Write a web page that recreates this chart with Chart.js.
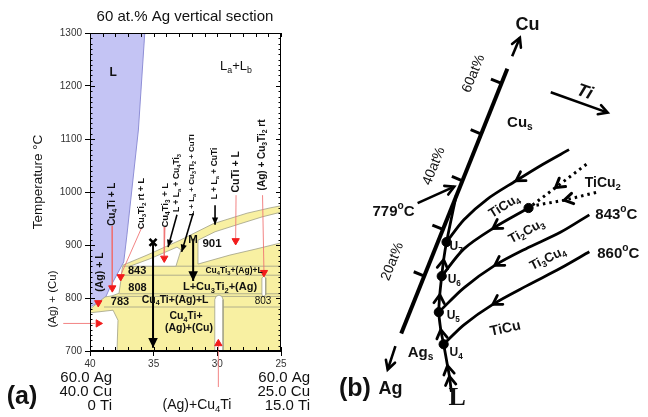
<!DOCTYPE html>
<html>
<head>
<meta charset="utf-8">
<script src="https://cdn.jsdelivr.net/npm/chart.js@4.4.1/dist/chart.umd.min.js"></script>
<style>
  html, body { margin: 0; padding: 0; background: #fff; }
  #wrap { position: relative; width: 648px; height: 417px; overflow: hidden; }
  #boxA { position: absolute; left: 0; top: 0; width: 330px; height: 417px; }
  #boxB { position: absolute; left: 330px; top: 0; width: 318px; height: 417px; }
</style>
</head>
<body>
<div id="wrap">
  <div id="boxA"><canvas id="section"></canvas></div>
  <div id="boxB"><canvas id="projection"></canvas></div>
</div>
<script>
// ---------- panel (a): 60 at.% Ag vertical section (x = at.% Cu, y = T in C) ----------
const tempTicks = [700, 800, 900, 1000, 1100, 1200, 1300];
const cuTicks = [40, 35, 30, 25];
const isoTemps = [860, 843, 808, 803, 783];
const isoFrom = [37.41, 37.5, 37.7, 38.3, 38.9];

const fieldL = [[40,1300],[35.7,1300],[36.2,1117],[36.8,985],[37.1,919],[37.35,868],[38.45,819],[38.8,800],[40,783]];
const fieldYellow = [[37.41,862],[35.52,881],[32.93,909],[30.34,940],[27.67,960],[25.86,970],[25,974],[25,700],
  [37.88,700],[37.8,758],[38.19,777],[40,772],[40,779],[38.82,802],[38.27,804],[37.72,809],[37.57,834],[37.49,853]];
const pocketLeft = [[36.86,860],[35.29,874],[33.17,896],[32.85,891],[33.25,860]];
const pocket901 = [[31.52,864],[31.52,909],[30.18,925],[28.22,940],[26.49,953],[25,962],[25,904],[27.04,892],[29.01,881]];
const slot30 = [[30.2,700],[30.2,797],[30.1,803],[29.87,805.5],[29.64,803],[29.55,797],[29.55,700]];
const slot26 = [[26.5,806],[26.5,838],[26.35,841],[26.2,838],[26.2,806],[26.35,803]];

const redDown = [[39.35,791],[38.25,819],[37.59,840],[34.17,875],[28.56,908],[26.34,848]];
const redRight = [[39.35,752]];
const redUp = [[29.92,714]];
const redLeaders = [
  [[38.27,936],[38.25,823]],
  [[35.92,934],[37.55,845]],
  [[34.11,934],[34.17,880]],
  [[28.53,994],[28.56,912]],
  [[26.45,994],[26.34,852]],
  [[42.1,752],[39.6,752]],
  [[29.92,632],[29.92,719]]
];
const blackArrows = [
  [[35.05,905],[35.05,706]],
  [[31.9,912],[31.9,832]],
  [[33.17,957],[33.87,896]],
  [[31.9,960],[32.8,887]],
  [[30.18,975],[30.18,938]]
];
const startPoint = [[35.05,905]];

const fieldLabels = [
  // text, at.% Cu, T, size, style, rotation
  ['L', 38.19, 1226, 12, 'b', 0],
  ['L_a+L_b', 28.53, 1236, 13, '', 0],
  ['843', 36.3, 851, 11, 'b', 0],
  ['808', 36.27, 818, 11, 'b', 0],
  ['783', 37.64, 793, 11, 'b', 0],
  ['Cu_4Ti+(Ag)+L', 33.32, 796, 10.5, 'b', 0],
  ['L+Cu_3Ti_2+(Ag)', 29.79, 820, 11, 'b', 0],
  ['Cu_4Ti_3+(Ag)+L', 28.69, 851, 8.5, 'b', 0],
  ['Cu_4Ti+', 32.46, 765, 10.5, 'b', 0],
  ['(Ag)+(Cu)', 32.23, 743, 10.5, 'b', 0],
  ['803', 26.41, 793, 10, '', 0],
  ['M', 31.91, 909, 11.5, 'b', 0],
  ['901', 30.42, 903, 11.5, 'b', 0],
  ['Cu_4Ti + L', 38.27, 977, 10, 'b', -90],
  ['(Ag) + L', 39.21, 849, 10.5, 'b', -90],
  ['Cu_3Ti_2 rt + L', 35.92, 978, 9, 'b', -90],
  ['Cu_4Ti_3 + L', 34.11, 975, 9.5, 'b', -90],
  ['L + L_a + Cu_4Ti_3', 33.17, 1017, 8.5, 'b', -90],
  ['L + L_a + Cu_3Ti_2 + CuTi', 31.99, 1032, 8, 'b', -90],
  ['L + L_a + CuTi', 30.18, 1035, 8.5, 'b', -90],
  ['CuTi + L', 28.53, 1038, 10.5, 'b', -90],
  ['(Ag) + Cu_3Ti_2 rt', 26.49, 1070, 10, 'b', -90]
];
const outsideLabels = [
  // text, px, py, size, style, rotation, align
  ['60 at.% Ag vertical section', 185, 17, 15, '', 0, 'center'],
  ['Temperature °C', 38, 182, 13.5, '', -90, 'center'],
  ['(Ag) + (Cu)', 53, 299, 11.5, '', -90, 'center'],
  ['60.0 Ag', 112, 378, 15, '', 0, 'right'],
  ['40.0 Cu', 112, 392, 15, '', 0, 'right'],
  ['0 Ti', 112, 406, 15, '', 0, 'right'],
  ['60.0 Ag', 310, 378, 15, '', 0, 'right'],
  ['25.0 Cu', 310, 392, 15, '', 0, 'right'],
  ['15.0 Ti', 310, 406, 15, '', 0, 'right'],
  ['(Ag)+Cu_4Ti', 197, 405, 14, '', 0, 'center'],
  ['(a)', 22, 397, 25, 'b', 0, 'center']
];

// ---------- panel (b): liquidus projection near the Ag corner (schematic units) ----------
const sectionLine = [[178,65],[68,337]];
const sectionTicks = [
  [[172,80],[161,75.5]],
  [[151,132],[140,127.5]],
  [[131.5,180],[120.5,175.5]],
  [[111.3,230],[100.3,225.5]],
  [[92,278],[81,273.5]]
];
const dirArrows = [
  [[183,52],[191,33]],
  [[62,350],[54,374]],
  [[223,89],[282,110]],
  [[85,203],[123,186]]
];
const valleyTiCu4 = [[242,148],[215,163],[187,180],[157,199],[133,220],[115,243]];
const valleyTi2Cu3 = [[200,208],[163,229],[133,250],[110,278]];
const valley843 = [[263,215],[233,233],[197,250],[165,267],[133,290],[107,315]];
const valley860 = [[263,253],[233,270],[198,288],[163,307],[133,328],[112,348]];
const valleyAg = [[120,397],[118,381],[116,370],[112,348],[109,333],[107,315],[108,297],[110,278],[112,261],[115,243],[125,195]];
const dottedA = [[260,163],[228,187],[200,208]];
const dottedB = [[270,192],[237,200],[203,206]];
const invariantPts = [[200,208],[115,243],[110,278],[107,315],[112,348]];

const projLabels = [
  ['Cu', 199, 20, 18, 'b', 0],
  ['Ti', 258, 89, 18, 'bi', 20],
  ['Ag', 57, 394, 18, 'b', 0],
  ['Cu_s', 191, 120, 15, 'b', 0],
  ['60at%', 143, 70, 14, '', -68],
  ['40at%', 102, 165, 14, '', -68],
  ['20at%', 59, 263, 14, '', -68],
  ['779^oC', 60, 212, 15, 'b', 0],
  ['843^oC', 291, 215, 15, 'b', 0],
  ['860^oC', 293, 255, 15, 'b', 0],
  ['TiCu_4', 175, 206, 13, 'b', -32],
  ['Ti_2Cu_3', 198, 232, 13, 'b', -28],
  ['Ti_3Cu_4', 220, 260, 13, 'b', -26],
  ['TiCu', 176, 332, 14, 'b', -12],
  ['TiCu_2', 277, 182, 14, 'b', 0],
  ['U_7', 125, 248, 12, 'b', 0],
  ['U_6', 123, 282, 12, 'b', 0],
  ['U_5', 122, 319, 12, 'b', 0],
  ['U_4', 125, 357, 12, 'b', 0],
  ['Ag_s', 88, 357, 15, 'b', 0],
  ['L', 126, 404, 26, 'serif', 0],
  ['(b)', 20, 394, 25, 'b', 0]
];

// ---------- helpers ----------
Chart.defaults.font.family = '"Liberation Sans", Arial, Helvetica, sans-serif';
Chart.defaults.color = '#222';
const SANS = '"Liberation Sans", Arial, Helvetica, sans-serif';
const SERIF = '"Liberation Serif", "Times New Roman", serif';

const xy = arr => arr.map(([x, y]) => ({x, y}));

function poly(pts, fill, stroke, w) {
  const d = xy(pts);
  d.push(d[0]);
  return { data: d, fill: 'shape', backgroundColor: fill, borderColor: stroke, borderWidth: w, pointRadius: 0, tension: 0 };
}
function seg(pts, color, w, extra) {
  return Object.assign({ data: xy(pts), fill: false, borderColor: color, borderWidth: w, pointRadius: 0, tension: 0 }, extra || {});
}
function marks(pts, style, rot, color, r, extra) {
  return Object.assign({ data: xy(pts), showLine: false, pointStyle: style, rotation: rot, pointRadius: r,
    backgroundColor: color, borderColor: color, borderWidth: 1 }, extra || {});
}
function stack(list) {
  // first item is painted first (bottom)
  list.forEach((d, i) => { d.order = list.length - i; });
  return list;
}

function parseRich(s) {
  const out = [];
  let i = 0, buf = '';
  while (i < s.length) {
    const c = s[i];
    if (c === '_' || c === '^') {
      if (buf) { out.push({t: buf, m: 0}); buf = ''; }
      out.push({t: s[i + 1], m: c === '_' ? 1 : 2});
      i += 2;
    } else { buf += c; i++; }
  }
  if (buf) out.push({t: buf, m: 0});
  return out;
}

function drawRich(ctx, s, x, y, size, style, rot, align) {
  const serif = style === 'serif';
  const fam = serif ? SERIF : SANS;
  const bold = serif || style === 'b' || style === 'bi' ? 'bold ' : '';
  const ital = style === 'bi' ? 'italic ' : '';
  const fontOf = m => ital + bold + (m ? size * 0.68 : size) + 'px ' + fam;
  const parts = parseRich(s);
  ctx.save();
  ctx.translate(x, y);
  if (rot) ctx.rotate(rot * Math.PI / 180);
  let total = 0;
  parts.forEach(p => { ctx.font = fontOf(p.m); p.w = ctx.measureText(p.t).width; total += p.w; });
  let cx = align === 'left' ? 0 : align === 'right' ? -total : -total / 2;
  ctx.fillStyle = '#111';
  ctx.textBaseline = 'middle';
  ctx.textAlign = 'left';
  parts.forEach(p => {
    ctx.font = fontOf(p.m);
    const dy = p.m === 1 ? size * 0.3 : p.m === 2 ? -size * 0.38 : 0;
    ctx.fillText(p.t, cx, dy);
    cx += p.w;
  });
  ctx.restore();
}

function drawHead(ctx, x, y, ang, len, spread, open) {
  const x1 = x - len * Math.cos(ang - spread), y1 = y - len * Math.sin(ang - spread);
  const x2 = x - len * Math.cos(ang + spread), y2 = y - len * Math.sin(ang + spread);
  ctx.beginPath();
  if (open) { ctx.moveTo(x1, y1); ctx.lineTo(x, y); ctx.lineTo(x2, y2); ctx.stroke(); }
  else { ctx.moveTo(x, y); ctx.lineTo(x1, y1); ctx.lineTo(x2, y2); ctx.closePath(); ctx.fill(); }
}

// arrow heads at line ends and chevrons along valleys
const arrowMarks = {
  id: 'arrowMarks',
  afterDatasetsDraw(chart) {
    const ctx = chart.ctx;
    chart.data.datasets.forEach((ds, i) => {
      if (!ds.head && !ds.chevrons) return;
      const pts = chart.getDatasetMeta(i).data;
      ctx.save();
      ctx.setLineDash([]);
      ctx.strokeStyle = ds.borderColor;
      ctx.fillStyle = ds.borderColor;
      ctx.lineWidth = ds.borderWidth;
      ctx.lineCap = 'round';
      ctx.lineJoin = 'miter';
      if (ds.head) {
        const a = pts[pts.length - 2], b = pts[pts.length - 1];
        drawHead(ctx, b.x, b.y, Math.atan2(b.y - a.y, b.x - a.x), ds.head.len, ds.head.spread, ds.head.open);
      }
      (ds.chevrons || []).forEach(k => {
        const a = pts[k - 1], b = pts[k + 1], c = pts[k];
        drawHead(ctx, c.x, c.y, Math.atan2(b.y - a.y, b.x - a.x), 10, 0.55, true);
      });
      ctx.restore();
    });
  }
};

// frame, minor ticks and all text of panel (a)
const sectionText = {
  id: 'sectionText',
  afterDraw(chart) {
    const {ctx, chartArea: a, scales: {x, y}} = chart;
    ctx.save();
    ctx.strokeStyle = '#000';
    ctx.lineWidth = 1;
    ctx.strokeRect(a.left + 0.5, a.top + 0.5, a.width - 1, a.height - 1);
    ctx.beginPath();
    for (let v = 25; v <= 40; v += 1) {
      const px = Math.round(x.getPixelForValue(v)) + 0.5;
      ctx.moveTo(px, a.top); ctx.lineTo(px, a.top + 4);
      ctx.moveTo(px, a.bottom); ctx.lineTo(px, a.bottom - 4);
    }
    for (let v = 700; v <= 1300; v += 10) {
      const py = Math.round(y.getPixelForValue(v)) + 0.5;
      const l = v % 100 === 0 ? 5 : 2.5;
      ctx.moveTo(a.left, py); ctx.lineTo(a.left + l, py);
      ctx.moveTo(a.right, py); ctx.lineTo(a.right - l, py);
    }
    ctx.stroke();
    ctx.restore();
    fieldLabels.forEach(([t, cu, temp, size, style, rot]) => {
      drawRich(ctx, t, x.getPixelForValue(cu), y.getPixelForValue(temp), size, style, rot, 'center');
    });
    outsideLabels.forEach(([t, px, py, size, style, rot, align]) => {
      drawRich(ctx, t, px, py, size, style, rot, align);
    });
  }
};

const projText = {
  id: 'projText',
  afterDraw(chart) {
    const {ctx, scales: {x, y}} = chart;
    projLabels.forEach(([t, u, v, size, style, rot]) => {
      drawRich(ctx, t, x.getPixelForValue(u), y.getPixelForValue(v), size, style, rot, 'center');
    });
  }
};

// ---------- chart (a) ----------
const YELLOW = '#f8f0a2';
const BLUE = '#c4c4f4';
const EDGE = '#a09f86';
const RED = '#f21c1c';
const PINK = 'rgba(240,110,110,0.85)';

const sectionSets = stack([
  poly(fieldL, BLUE, '#8f8fd6', 1),
  poly(fieldYellow, YELLOW, EDGE, 0.8),
  ...isoTemps.map((t, i) => seg([[isoFrom[i], t], [25, t]], EDGE, 0.8)),
  poly(pocketLeft, '#ffffff', EDGE, 0.8),
  poly(pocket901, '#ffffff', EDGE, 0.8),
  poly(slot30, '#ffffff', EDGE, 0.8),
  poly(slot26, '#ffffff', EDGE, 0.8),
  ...redLeaders.map(p => seg(p, PINK, 1, {clip: false})),
  marks(redDown, 'triangle', 180, RED, 4.2),
  marks(redRight, 'triangle', 90, RED, 4.2),
  marks(redUp, 'triangle', 0, RED, 4.2),
  seg(blackArrows[0], '#000', 2, {head: {len: 11, spread: 0.45}}),
  seg(blackArrows[1], '#000', 2, {head: {len: 11, spread: 0.45}}),
  seg(blackArrows[2], '#000', 1.6, {head: {len: 8, spread: 0.4}}),
  seg(blackArrows[3], '#000', 1.6, {head: {len: 8, spread: 0.4}}),
  seg(blackArrows[4], '#000', 1.6, {head: {len: 8, spread: 0.4}}),
  marks(startPoint, 'crossRot', 0, '#000', 5, {borderWidth: 2.6})
]);

new Chart(document.getElementById('section'), {
  type: 'line',
  data: { datasets: sectionSets },
  options: {
    responsive: true,
    maintainAspectRatio: false,
    animation: false,
    events: [],
    layout: { padding: { top: 33, right: 49, left: 0, bottom: 0 } },
    plugins: { legend: { display: false }, tooltip: { enabled: false }, filler: { propagate: false } },
    scales: {
      x: {
        type: 'linear', min: 25, max: 40, reverse: true,
        afterBuildTicks: s => { s.ticks = cuTicks.map(v => ({value: v})); },
        afterFit: s => { s.height = 66; },
        ticks: { font: { size: 10 }, color: '#333', padding: 2, maxRotation: 0, callback: v => String(v) },
        grid: { drawOnChartArea: false, tickLength: 5, color: '#000' },
        border: { color: '#000', width: 1 }
      },
      y: {
        type: 'linear', min: 700, max: 1300,
        afterBuildTicks: s => { s.ticks = tempTicks.map(v => ({value: v})); },
        afterFit: s => { s.width = 90; },
        ticks: { font: { size: 10 }, color: '#333', padding: 3, callback: v => String(v) },
        grid: { drawOnChartArea: false, tickLength: 5, color: '#000' },
        border: { color: '#000', width: 1 }
      }
    }
  },
  plugins: [arrowMarks, sectionText]
});

// ---------- chart (b) ----------
const projSets = stack([
  seg(sectionLine, '#000', 4),
  ...sectionTicks.map(p => seg(p, '#000', 3)),
  ...dirArrows.map(p => seg(p, '#000', 2.6, {head: {len: 10, spread: 0.5, open: true}})),
  seg(valleyTiCu4, '#000', 2.8, {tension: 0.3, chevrons: [2]}),
  seg(valleyTi2Cu3, '#000', 2.8, {tension: 0.3, chevrons: [1]}),
  seg(valley843, '#000', 2.8, {tension: 0.3, chevrons: [3]}),
  seg(valley860, '#000', 2.8, {tension: 0.3, chevrons: [3]}),
  seg(valleyAg, '#000', 2.8, {tension: 0.3, chevrons: [1, 2, 4, 6, 8]}),
  seg(dottedA, '#000', 3, {borderDash: [2.5, 4], chevrons: [1]}),
  seg(dottedB, '#000', 3, {borderDash: [2.5, 4], chevrons: [1]}),
  marks(invariantPts, 'circle', 0, '#000', 4.6)
]);

new Chart(document.getElementById('projection'), {
  type: 'line',
  data: { datasets: projSets },
  options: {
    responsive: true,
    maintainAspectRatio: false,
    animation: false,
    events: [],
    layout: { padding: 0 },
    plugins: { legend: { display: false }, tooltip: { enabled: false } },
    scales: {
      x: { type: 'linear', min: 0, max: 318, display: false },
      y: { type: 'linear', min: 0, max: 417, reverse: true, display: false }
    }
  },
  plugins: [arrowMarks, projText]
});
</script>
</body>
</html>
